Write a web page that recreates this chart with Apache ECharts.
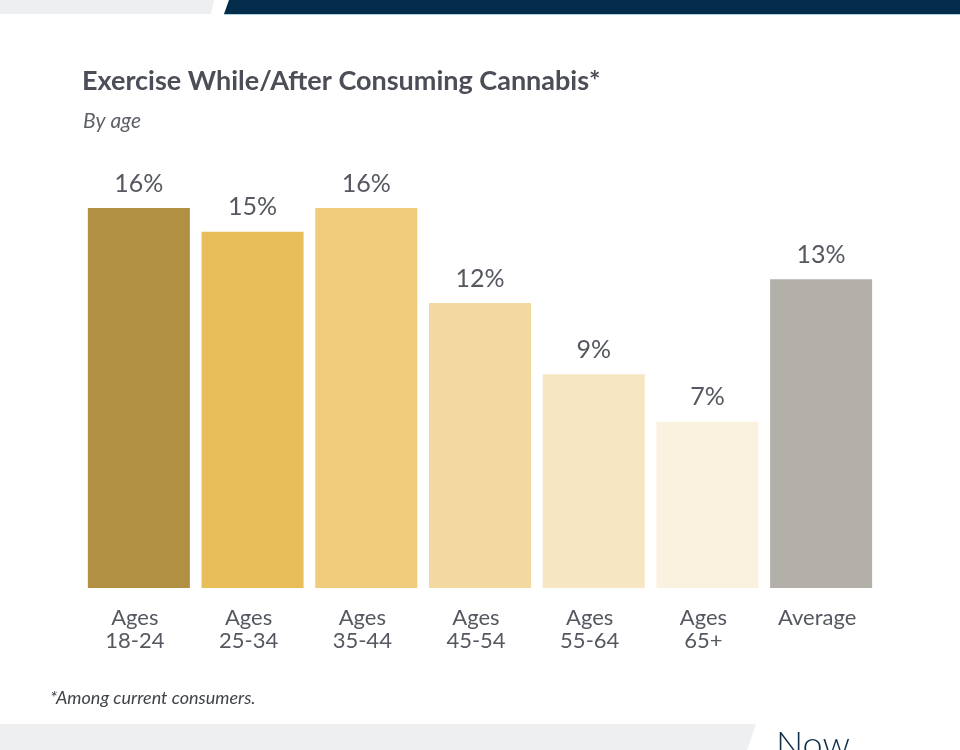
<!DOCTYPE html>
<html>
<head>
<meta charset="utf-8">
<style>html,body{margin:0;padding:0;background:#fff;}#c{width:960px;height:750px;}</style>
<script src="https://cdn.jsdelivr.net/npm/echarts@6/dist/echarts.min.js"></script>
</head>
<body>
<div id="c"></div>
<script>
const categories = ['Ages\n18-24', 'Ages\n25-34', 'Ages\n35-44', 'Ages\n45-54', 'Ages\n55-64', 'Ages\n65+', 'Average'];
const values = [16, 15, 16, 12, 9, 7, 13];
const barColors = ['#B18F43', '#E8BE5B', '#EFCB7B', '#F2D9A0', '#F6E6C2', '#FAF1DF', '#B3AFA9'];

const chart = echarts.init(document.getElementById('c'), null, {renderer: 'canvas'});
chart.setOption({
  animation: false,
  backgroundColor: '#ffffff',
  title: [
    {text: 'Exercise While/After Consuming Cannabis*', left: 77, top: 63,
     textStyle: {fontFamily: 'Lato', fontWeight: 'bold', fontSize: 27, color: '#4B4E56'}},
    {text: 'By age', left: 78, top: 106,
     textStyle: {fontFamily: 'Lato', fontStyle: 'italic', fontWeight: 'normal', fontSize: 21, color: '#5E6168'}},
    {text: '*Among current consumers.', left: 45, top: 684,
     textStyle: {fontFamily: 'Lato', fontStyle: 'italic', fontWeight: 'normal', fontSize: 18, color: '#3F4249'}}
  ],
  grid: {left: 82, right: 82, top: 208, bottom: 162, containLabel: false},
  xAxis: {
    type: 'category', data: categories,
    axisLine: {show: false}, axisTick: {show: false},
    axisLabel: {margin: 18, fontFamily: 'Lato', fontSize: 22, lineHeight: 23, color: '#555860',
                verticalAlign: 'top', padding: [0, 8, 0, 0]}
  },
  yAxis: {type: 'value', min: 0, max: 16, show: false, splitLine: {show: false}},
  series: [{
    type: 'bar',
    data: values.map((v, i) => ({value: v, itemStyle: {color: barColors[i]}})),
    barCategoryGap: '10.3%',
    label: {show: true, position: 'top', distance: 12, formatter: '{c}%',
            fontFamily: 'Lato', fontSize: 25, color: '#555860'}
  }],
  graphic: [
    {type: 'polygon', shape: {points: [[0,0],[214,0],[211,14],[0,14]]}, style: {fill: '#EEEFF1'}},
    {type: 'polygon', shape: {points: [[229,0],[960,0],[960,14],[224,14]]}, style: {fill: '#022C4A'}},
    {type: 'rect', shape: {x: 224, y: 14, width: 736, height: 1}, style: {fill: '#A9CFE0'}},
    {type: 'polygon', shape: {points: [[0,724],[756,724],[747,750],[0,750]]}, style: {fill: '#EEEFF1'}},
    {type: 'text', left: 776, top: 727, style: {text: 'Now', fontFamily: 'Lato', fontWeight: 300, fontSize: 36, fill: '#0F2F4A'}}
  ]
});
</script>
</body>
</html>
